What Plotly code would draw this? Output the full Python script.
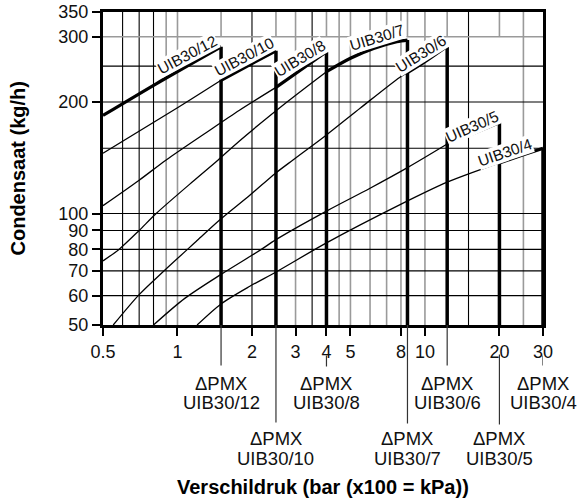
import math
import plotly.graph_objects as go

# ---------------- data ----------------
models = ["UIB30/12", "UIB30/10", "UIB30/8", "UIB30/7", "UIB30/6", "UIB30/5", "UIB30/4"]
dp_max = [1.5, 2.5, 4.0, 8.5, 12.3, 20.0, 30.0]   # ΔPMX (bar)

dp_12 = [0.5, 0.82, 1.5]
q_12 = [184, 224, 282]
dp_10 = [0.5, 1.0, 1.5, 2.0, 2.5]
q_10 = [145.5, 193, 229, 254, 275]
dp_8 = [0.5, 0.7, 0.9, 1.3, 1.78, 2.5, 3.2, 4.0]
q_8 = [105, 123, 139.5, 165, 190, 219, 246, 273.5]
dp_7 = [0.5, 0.58, 0.7, 0.82, 1.17, 1.46, 1.78, 2.77, 4.0, 5.0, 6.2, 7.7, 8.5]
q_7 = [74.5, 80, 90, 100, 123, 139.5, 157, 200, 241.5, 262.5, 279, 291, 294]
dp_6 = [0.55, 0.7, 0.89, 1.2, 1.48, 1.96, 2.49, 2.93, 4.0, 5.5, 7.9, 8.5, 10.0, 12.3]
q_6 = [50, 60.4, 70.4, 84.5, 96, 112, 128.5, 139.5, 163, 193, 233, 240, 257, 283]
dp_5 = [0.8, 1.07, 1.5, 2.15, 2.5, 4.0, 6.0, 8.5, 12.3, 16.0, 20.0]
q_5 = [50, 59, 68.5, 79.5, 85, 101.5, 117, 133, 154, 165.5, 176]
dp_4 = [1.2, 1.5, 1.96, 2.5, 4.0, 7.9, 12.3, 20.0, 25.0, 30.0]
q_4 = [50, 57, 63.6, 69.5, 83.3, 105.5, 121.5, 137, 144, 150]

curve_dp = [dp_12, dp_10, dp_8, dp_7, dp_6, dp_5, dp_4]
curve_q = [q_12, q_10, q_8, q_7, q_6, q_5, q_4]

x_tick_vals = [0.5, 1, 2, 3, 4, 5, 8, 10, 20, 30]
x_tick_text = ["0.5", "1", "2", "3", "4", "5", "8", "10", "20", "30"]
y_tick_vals = [50, 60, 70, 80, 90, 100, 200, 300, 350]
y_tick_text = ["50", "60", "70", "80", "90", "100", "200", "300", "350"]

grid_x_dark = [0.6, 0.7, 0.8, 2, 3.5, 15]
grid_x_light = [0.9, 1, 3, 4.5, 5, 6, 7, 8, 10, 25]
grid_y_dark = [60, 70, 80, 90, 100, 150, 200, 250]
grid_y_light = [300]

# label placement (layout, not data)
label_pos = [(1.10, 268, -28), (1.87, 265, -28), (3.12, 262, -31), (6.4, 298, -17),
             (9.67, 270, -32), (15.5, 172, -24), (21.0, 146, -19)]
conn = [(0, -40.5), (0, -97.5), (-30.5, -41.5), (0, -98.5), (0, -40.5), (-29.5, -99.5), (-30.5, -40.5)]
label_row = [0, 1, 0, 1, 0, 1, 0]

FONT = "Liberation Sans, Arial, Helvetica, sans-serif"
BLACK = "#000000"
GRAY = "#9a9a9a"

fig = go.Figure()

# curves
for i, m in enumerate(models):
    xs, ys = curve_dp[i], curve_q[i]
    split = dp_max[i - 1] if i > 0 else None
    if split is not None:
        tx = [x for x in xs if x <= split]
        ty = [y for x, y in zip(xs, ys) if x <= split]
        fig.add_trace(go.Scatter(x=tx, y=ty, mode="lines",
                                 line=dict(color=BLACK, width=1.3, shape="spline", smoothing=0.8),
                                 hoverinfo="skip"))
        kx = [x for x in xs if x >= split]
        ky = [y for x, y in zip(xs, ys) if x >= split]
    else:
        kx, ky = xs, ys
    fig.add_trace(go.Scatter(x=kx, y=ky, mode="lines",
                             line=dict(color=BLACK, width=3.2, shape="spline", smoothing=0.8),
                             hoverinfo="skip"))
    # ΔPMX drop line
    fig.add_trace(go.Scatter(x=[dp_max[i], dp_max[i]], y=[ys[-1], 50], mode="lines",
                             line=dict(color=BLACK, width=3.5), hoverinfo="skip"))

shapes = []
for v in grid_x_dark:
    shapes.append(dict(type="line", xref="x", yref="paper", x0=v, x1=v, y0=0, y1=1,
                       line=dict(color=BLACK, width=1.1), layer="below"))
for v in grid_x_light:
    shapes.append(dict(type="line", xref="x", yref="paper", x0=v, x1=v, y0=0, y1=1,
                       line=dict(color=GRAY, width=1.6), layer="below"))
for v in dp_max[:-1]:
    shapes.append(dict(type="line", xref="x", yref="y", x0=v, x1=v, y0=300, y1=350,
                       line=dict(color=GRAY, width=1.6), layer="below"))
for v in grid_y_dark:
    shapes.append(dict(type="line", xref="paper", yref="y", x0=0, x1=1, y0=v, y1=v,
                       line=dict(color=BLACK, width=1.1), layer="below"))
for v in grid_y_light:
    shapes.append(dict(type="line", xref="paper", yref="y", x0=0, x1=1, y0=v, y1=v,
                       line=dict(color=GRAY, width=1.6), layer="below"))
# connectors from axis to ΔPMX labels
for i, v in enumerate(dp_max):
    shapes.append(dict(type="line", xref="x", yref="paper", ysizemode="pixel", yanchor=0,
                       x0=v, x1=v, y0=conn[i][0], y1=conn[i][1],
                       line=dict(color="#333333", width=1.2)))

annotations = []
for i, m in enumerate(models):
    lx, ly, ang = label_pos[i]
    annotations.append(dict(x=math.log10(lx), y=math.log10(ly), xref="x", yref="y",
                            text=m, showarrow=False, textangle=ang, bgcolor="white",
                            borderpad=0, font=dict(family=FONT, size=15.5, color="#111111")))
    top = -58.3 if label_row[i] == 0 else -113.5
    annotations.append(dict(x=math.log10(dp_max[i]), y=0, xref="x", yref="paper",
                            text="ΔPMX", showarrow=False, yanchor="middle", yshift=top,
                            font=dict(family=FONT, size=18.5, color="#111111")))
    annotations.append(dict(x=math.log10(dp_max[i]), y=0, xref="x", yref="paper",
                            text=m, showarrow=False, yanchor="middle", yshift=top - 19.5,
                            font=dict(family=FONT, size=18.5, color="#111111")))

annotations.append(dict(x=0.5, y=0, xref="paper", yref="paper", text="<b>Verschildruk (bar (x100 = kPa))</b>",
                        showarrow=False, yanchor="middle", yshift=-161.5,
                        font=dict(family=FONT, size=20, color="#000000")))
annotations.append(dict(x=0, y=0.5, xref="paper", yref="paper", text="<b>Condensaat (kg/h)</b>",
                        showarrow=False, xanchor="center", yanchor="middle", xshift=-86, textangle=-90,
                        font=dict(family=FONT, size=20, color="#000000")))

axis_common = dict(type="log", showgrid=False, zeroline=False, showline=True, linewidth=3,
                   linecolor=BLACK, mirror=True, ticks="outside", ticklen=8, tickwidth=1.5,
                   tickcolor=BLACK, automargin=False,
                   tickfont=dict(family=FONT, size=18, color="#111111"))

fig.update_layout(
    width=583, height=501,
    margin=dict(l=103, r=40, t=12, b=175.5),
    paper_bgcolor="white", plot_bgcolor="white",
    showlegend=False, hovermode=False,
    xaxis=dict(range=[math.log10(0.5), math.log10(30)], tickvals=x_tick_vals, ticktext=x_tick_text,
               **axis_common),
    yaxis=dict(range=[math.log10(50), math.log10(350)], tickvals=y_tick_vals, ticktext=y_tick_text,
               **axis_common),
    shapes=shapes, annotations=annotations,
)

fig.write_html("out.html", config={"displayModeBar": False},
               post_script="document.body.style.margin='0';")
